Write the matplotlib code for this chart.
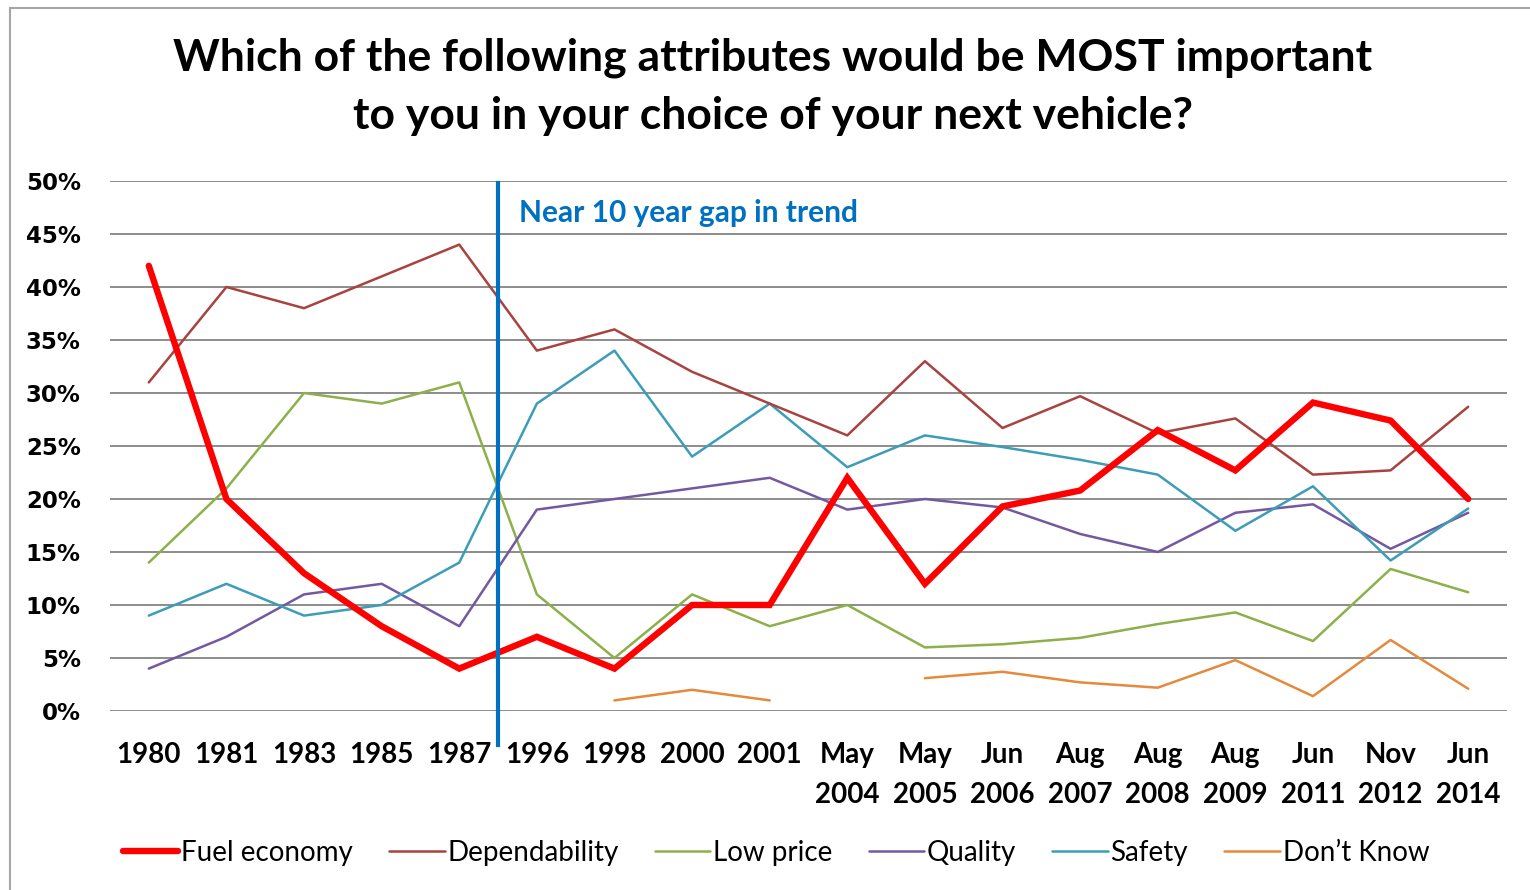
import numpy as np
import matplotlib
matplotlib.use("Agg")
import matplotlib.pyplot as plt
from matplotlib.lines import Line2D

# Survey periods (two-line labels for month/year waves)
periods = ["1980", "1981", "1983", "1985", "1987", "1996", "1998", "2000", "2001",
           "May\n2004", "May\n2005", "Jun\n2006", "Aug\n2007", "Aug\n2008",
           "Aug\n2009", "Jun\n2011", "Nov\n2012", "Jun\n2014"]

# Share of respondents (%) naming each attribute as most important
fuel_economy = [42, 20, 13, 8, 4, 7, 4, 10, 10, 22, 12, 19.3, 20.8, 26.5, 22.7, 29.1, 27.4, 20]
dependability = [31, 40, 38, 41, 44, 34, 36, 32, 29, 26, 33, 26.7, 29.7, 26.2, 27.6, 22.3, 22.7, 28.7]
low_price = [14, 21, 30, 29, 31, 11, 5, 11, 8, 10, 6, 6.3, 6.9, 8.2, 9.3, 6.6, 13.4, 11.2]
quality = [4, 7, 11, 12, 8, 19, 20, 21, 22, 19, 20, 19.2, 16.7, 15, 18.7, 19.5, 15.3, 18.7]
safety = [9, 12, 9, 10, 14, 29, 34, 24, 29, 23, 26, 24.9, 23.7, 22.3, 17, 21.2, 14.2, 19.1]
dont_know = [np.nan] * 6 + [1, 2, 1, np.nan, 3.1, 3.7, 2.7, 2.2, 4.8, 1.4, 6.7, 2.1]

y_ticks = [0, 5, 10, 15, 20, 25, 30, 35, 40, 45, 50]

fig = plt.figure(figsize=(15.3, 8.9), dpi=100)
ax = fig.add_axes([110 / 1530, 1 - 711 / 890, 1397 / 1530, 530 / 890])

x = np.arange(len(periods))

series = [
    ("Fuel economy", fuel_economy, "#FF0000", 4.6, 6),
    ("Dependability", dependability, "#A8433F", 1.8, 4),
    ("Low price", low_price, "#8DB04B", 1.8, 3),
    ("Quality", quality, "#7359A0", 1.8, 3),
    ("Safety", safety, "#3D9DB8", 1.8, 3),
    ("Don\u2019t Know", dont_know, "#E48A3C", 1.8, 3),
]
handles = []
for name, vals, color, lw, z in series:
    ln, = ax.plot(x, vals, color=color, lw=lw, zorder=z, label=name,
                  solid_joinstyle="miter" if lw > 3 else "round",
                  solid_capstyle="round")
    handles.append(ln)

ax.set_xlim(-0.5, len(periods) - 0.5)
ax.set_ylim(0, 50)
ax.set_yticks(y_ticks)
ax.set_yticklabels([f"{v}%" for v in y_ticks], fontfamily="DejaVu Sans",
                   fontweight="bold", fontsize=16.5)
ax.set_xticks(x)
ax.set_xticklabels(periods, fontfamily="Lato", fontweight="bold", fontsize=20,
                   va="top", linespacing=1.7)
ax.tick_params(axis="both", length=0)
ax.tick_params(axis="x", pad=22)
ax.tick_params(axis="y", pad=21)
for lab in ax.get_yticklabels():
    lab.set_horizontalalignment("right")

ax.grid(axis="y", color="#8C8C8C", lw=1.4)
ax.set_axisbelow(True)
for s in ax.spines.values():
    s.set_visible(False)

# Marker for the break between the 1980s and 1996 surveys
ax.plot([4.5, 4.5], [-3.2, 49.8], color="#0070C0", lw=3, zorder=8, clip_on=False)
ax.text(4.77, 47.0, "Near 10 year gap in trend", color="#0070C0", fontfamily="Lato",
        fontweight="bold", fontsize=21.5, va="center", ha="left")

fig.text(0.505, 1 - 87 / 890, "Which of the following attributes would be MOST important\n"
         "to you in your choice of your next vehicle?", ha="center", va="center",
         fontfamily="Lato", fontweight="bold", fontsize=32, linespacing=1.55)

fig.legend(handles=handles, loc="center", bbox_to_anchor=(776 / 1530, 1 - 853 / 890),
           ncol=6, frameon=False, prop={"family": "Lato", "size": 20},
           handlelength=2.0, handletextpad=0.1, columnspacing=1.3)

# Outer frame (left and top edges)
fig.add_artist(Line2D([10 / 1530, 10 / 1530], [0, 1 - 8 / 890], transform=fig.transFigure,
                      color="#A6A6A6", lw=1.5))
fig.add_artist(Line2D([10 / 1530, 1], [1 - 8 / 890, 1 - 8 / 890], transform=fig.transFigure,
                      color="#A6A6A6", lw=1.5))

fig.savefig("out.png", dpi=100, facecolor="white")
